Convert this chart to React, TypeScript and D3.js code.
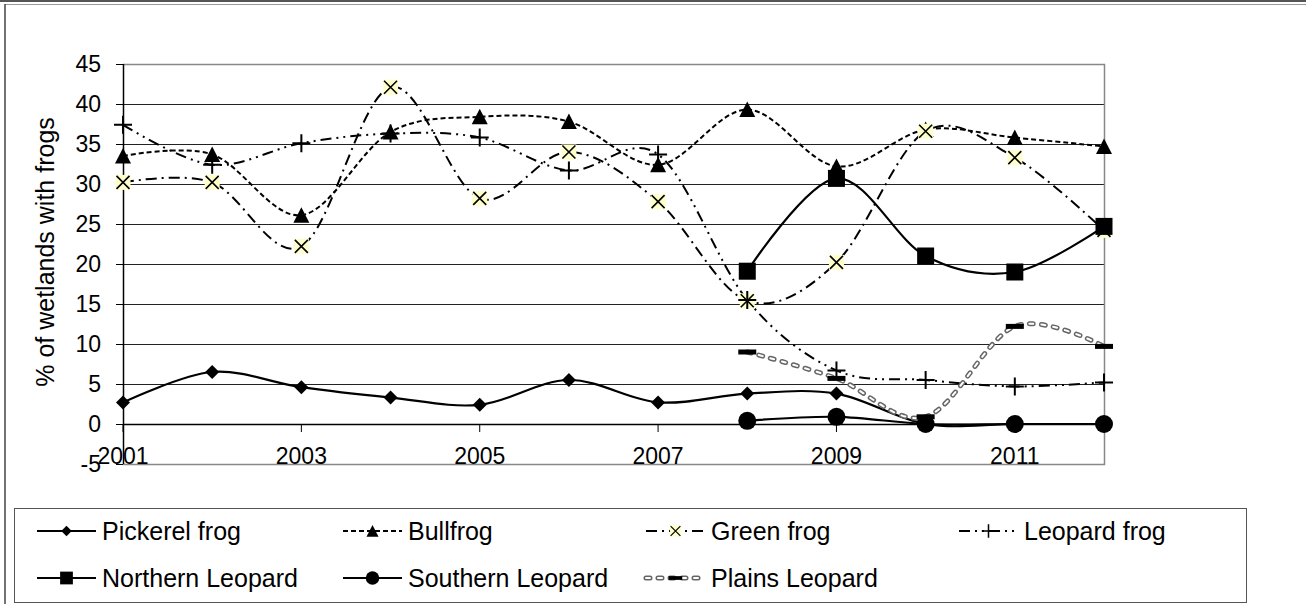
import React from "react";
import * as d3 from "d3";

// Survey years and the share of wetlands where each frog was recorded (%)
const years = [2001, 2002, 2003, 2004, 2005, 2006, 2007, 2008, 2009, 2010, 2011, 2012];
const pickerelFrog = [2.7, 6.5, 4.6, 3.3, 2.4, 5.5, 2.7, 3.8, 3.8, 0, 0, 0];
const bullfrog = [33.5, 33.7, 26.1, 36.5, 38.4, 37.8, 32.4, 39.3, 32.2, 36.8, 35.8, 34.7];
const greenFrog = [30.2, 30.2, 22.2, 42.1, 28.2, 34.0, 27.8, 15.4, 20.2, 36.6, 33.3, 24.2];
const leopardFrog = [37.4, 32.4, 35.1, 36.3, 35.8, 31.7, 33.7, 15.5, 6.7, 5.5, 4.7, 5.2];
const northernLeopard = [null, null, null, null, null, null, null, 19.1, 30.7, 21.0, 19.0, 24.7];
const southernLeopard = [null, null, null, null, null, null, null, 0.4, 0.9, 0, 0, 0];
const plainsLeopard = [null, null, null, null, null, null, null, 9.0, 5.7, 0.9, 12.2, 9.7];

const yTicks = [-5, 0, 5, 10, 15, 20, 25, 30, 35, 40, 45];
const xTickYears = [2001, 2003, 2005, 2007, 2009, 2011];
const yTitle = "% of wetlands with frogs";

type Marker = "diamond" | "triangle" | "x" | "plus" | "square" | "circle" | "bar";
type LineStyle = "solid" | "dash" | "dashDot" | "dashDotDot" | "double";

interface Series {
  name: string;
  values: (number | null)[];
  marker: Marker;
  line: LineStyle;
}

const series: Series[] = [
  { name: "Pickerel frog", values: pickerelFrog, marker: "diamond", line: "solid" },
  { name: "Bullfrog", values: bullfrog, marker: "triangle", line: "dash" },
  { name: "Green frog", values: greenFrog, marker: "x", line: "dashDot" },
  { name: "Leopard frog", values: leopardFrog, marker: "plus", line: "dashDotDot" },
  { name: "Northern Leopard", values: northernLeopard, marker: "square", line: "solid" },
  { name: "Southern Leopard", values: southernLeopard, marker: "circle", line: "solid" },
  { name: "Plains Leopard", values: plainsLeopard, marker: "bar", line: "double" },
];

const FONT = "'Liberation Sans', Arial, sans-serif";
const W = 1306;
const H = 604;
const plot = { left: 123, right: 1104, top: 64, bottom: 464 };

const x = d3.scalePoint<number>().domain(years).range([plot.left, plot.right]);
const y = d3.scaleLinear().domain([-5, 45]).range([plot.bottom, plot.top]);

function MarkerShape({ type, cx, cy, s = 1 }: { type: Marker; cx: number; cy: number; s?: number }) {
  const t = `translate(${cx},${cy}) scale(${s})`;
  switch (type) {
    case "diamond":
      return <path transform={t} d="M0,-7L7,0L0,7L-7,0Z" fill="#000" />;
    case "triangle":
      return <path transform={t} d="M0,-8L8,7.5L-8,7.5Z" fill="#000" />;
    case "x":
      return (
        <g transform={t}>
          <rect x={-7.5} y={-7.5} width={15} height={15} fill="#ffffcc" />
          <path d="M-6.5,-6.5L6.5,6.5M-6.5,6.5L6.5,-6.5" stroke="#000" strokeWidth={1.6} />
        </g>
      );
    case "plus":
      return <path transform={t} d="M-9,0H9M0,-9V9" stroke="#000" strokeWidth={2} />;
    case "square":
      return <rect transform={t} x={-8.5} y={-8.5} width={17} height={17} fill="#000" />;
    case "circle":
      return <circle transform={t} r={9} fill="#000" />;
    case "bar":
      return <rect transform={t} x={-9} y={-2.5} width={18} height={5} fill="#000" />;
  }
}

function Stroke({ d, style }: { d: string; style: LineStyle }) {
  if (style === "double") {
    return (
      <g fill="none">
        <path d={d} stroke="#666" strokeWidth={5} strokeDasharray="4,8" strokeLinecap="round" />
        <path d={d} stroke="#fff" strokeWidth={2} strokeDasharray="4,8" strokeLinecap="round" />
      </g>
    );
  }
  const dash: Record<string, string | undefined> = {
    solid: undefined,
    dash: "5,3",
    dashDot: "11,5,2,5",
    dashDotDot: "11,5,2,5,2,5",
  };
  const width = style === "solid" ? 2.2 : 2;
  return <path d={d} fill="none" stroke="#000" strokeWidth={width} strokeDasharray={dash[style]} />;
}

// legend layout: sample-line start per column, centre line per row
const legendCols = [37, 343, 646, 959];
const legendRows = [531, 578];
const sampleLen = 59;

export default function App() {
  const line = d3
    .line<number | null>()
    .defined((v) => v !== null)
    .x((_, i) => x(years[i]) as number)
    .y((v) => y(v as number))
    .curve(d3.curveCardinal.tension(0));

  return (
    <svg
      width={W}
      height={H}
      style={{ position: "absolute", left: 0, top: 0, background: "#fff" }}
      fontFamily={FONT}
    >
      {/* chart frame */}
      <line x1={0} x2={W} y1={1} y2={1} stroke="#555" strokeWidth={2} />
      <line x1={5} x2={W} y1={4.5} y2={4.5} stroke="#999" strokeWidth={1} />
      <line x1={5} x2={5} y1={4} y2={H} stroke="#444" strokeWidth={1.5} />

      {/* horizontal gridlines */}
      {yTicks
        .filter((v) => v > -5 && v < 45)
        .map((v) => (
          <line key={v} x1={plot.left} x2={plot.right} y1={Math.round(y(v)) + 0.5} y2={Math.round(y(v)) + 0.5} stroke="#222" strokeWidth={1} />
        ))}

      {/* plot border (top, right, bottom) */}
      <path
        d={`M${plot.left},${plot.top + 0.5}H${plot.right + 0.5}V${plot.bottom + 0.5}H${plot.left}`}
        fill="none"
        stroke="#888"
        strokeWidth={1.5}
      />

      {/* y axis */}
      <line x1={plot.left + 0.5} x2={plot.left + 0.5} y1={plot.top} y2={plot.bottom} stroke="#000" strokeWidth={1.5} />
      {yTicks.map((v) => (
        <g key={v}>
          <line x1={plot.left - 7} x2={plot.left} y1={Math.round(y(v)) + 0.5} y2={Math.round(y(v)) + 0.5} stroke="#000" />
          <text x={101} y={y(v) + 8} textAnchor="end" fontSize={23} fill="#000">
            {v}
          </text>
        </g>
      ))}
      <text
        transform={`translate(54,${(plot.top + plot.bottom) / 2 - 12}) rotate(-90)`}
        textAnchor="middle"
        fontSize={25}
        fill="#000"
      >
        {yTitle}
      </text>

      {/* x axis crossing at zero */}
      <line x1={plot.left} x2={plot.right} y1={Math.round(y(0)) + 0.5} y2={Math.round(y(0)) + 0.5} stroke="#000" strokeWidth={1.5} />
      {xTickYears.map((yr) => (
        <g key={yr}>
          <line x1={x(yr)} x2={x(yr)} y1={y(0)} y2={y(0) + 8} stroke="#000" />
          <text x={x(yr)} y={y(0) + 40} textAnchor="middle" fontSize={23} fill="#000">
            {yr}
          </text>
        </g>
      ))}

      {/* series lines */}
      {series.map((s) => (
        <Stroke key={s.name} d={line(s.values) || ""} style={s.line} />
      ))}

      {/* series markers, drawn in series order */}
      {series.map((s) => (
        <g key={s.name}>
          {s.values.map((v, i) =>
            v === null ? null : <MarkerShape key={i} type={s.marker} cx={x(years[i]) as number} cy={y(v)} />
          )}
        </g>
      ))}

      {/* legend */}
      <rect x={14.5} y={508.5} width={1232} height={94} fill="none" stroke="#555" strokeWidth={1} />
      {series.map((s, i) => {
        const row = i < 4 ? 0 : 1;
        const col = i < 4 ? i : i - 4;
        const x0 = legendCols[col];
        const ly = legendRows[row];
        const d = `M${x0},${ly}H${x0 + sampleLen}`;
        return (
          <g key={s.name}>
            <Stroke d={d} style={s.line} />
            <MarkerShape type={s.marker} cx={x0 + sampleLen / 2} cy={ly} s={0.75} />
            <text x={x0 + sampleLen + 6} y={ly + 9} fontSize={25} fill="#000">
              {s.name}
            </text>
          </g>
        );
      })}
    </svg>
  );
}
